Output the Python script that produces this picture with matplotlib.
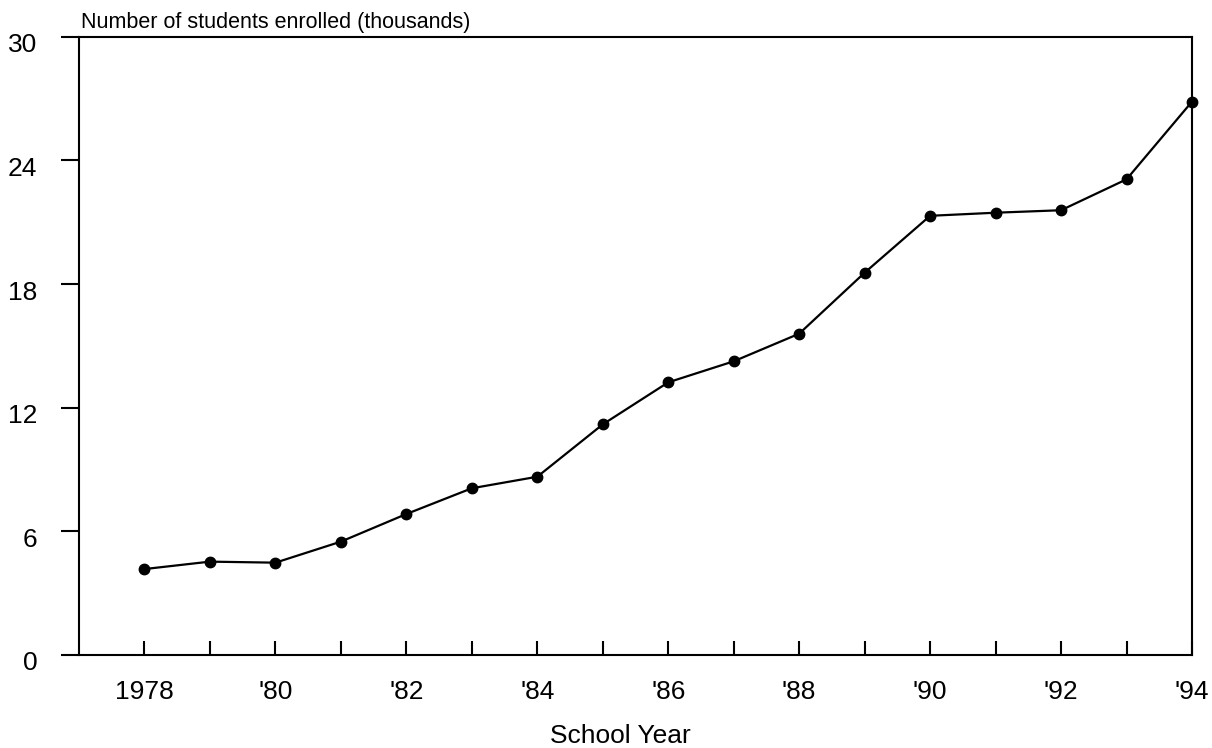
import matplotlib
matplotlib.use("Agg")
import matplotlib.pyplot as plt
from matplotlib.transforms import ScaledTranslation

years = list(range(1978, 1995))
enrolled = [4.17, 4.53, 4.48, 5.5, 6.84, 8.09, 8.65, 11.19, 13.23, 14.25,
            15.59, 18.55, 21.31, 21.46, 21.58, 23.08, 26.85]
year_labels = ["1978", "'80", "'82", "'84", "'86", "'88", "'90", "'92", "'94"]
y_ticks = [0, 6, 12, 18, 24, 30]

plt.rcParams['font.family'] = ['Liberation Sans', 'DejaVu Sans']

fig = plt.figure(figsize=(12.12, 7.48), dpi=100)
ax = fig.add_axes([79 / 1212, 1 - 655 / 748, (1192 - 79) / 1212, (655 - 36.7) / 748])

ax.plot(years, enrolled, color='black', lw=1.6, marker='o', ms=7.5,
        clip_on=False, zorder=3)

ax.set_xlim(1977, 1994)
ax.set_ylim(0, 30)

ax.set_xticks(years, minor=True)
ax.set_xticks(years[::2])
ax.set_xticklabels(year_labels)
ax.set_yticks(y_ticks)

ax.tick_params(axis='x', which='both', direction='in', length=10, width=1.5,
               pad=18, labelsize=19)
ax.tick_params(axis='y', direction='out', length=13, width=1.5,
               pad=17, labelsize=19)

for s in ax.spines.values():
    s.set_linewidth(1.5)

# shift y labels down a bit, like the original
for lab in ax.get_yticklabels():
    lab.set_transform(lab.get_transform() +
                      ScaledTranslation(0, -0.06, fig.dpi_scale_trans))

fig.text(81 / 1212, 1 - 27.7 / 748, "Number of students enrolled (thousands)",
         fontsize=15.5, va='baseline', ha='left')
fig.text(620 / 1212, 1 - 743 / 748, "School Year", fontsize=19,
         va='baseline', ha='center')

fig.savefig('out.png', dpi=100)
